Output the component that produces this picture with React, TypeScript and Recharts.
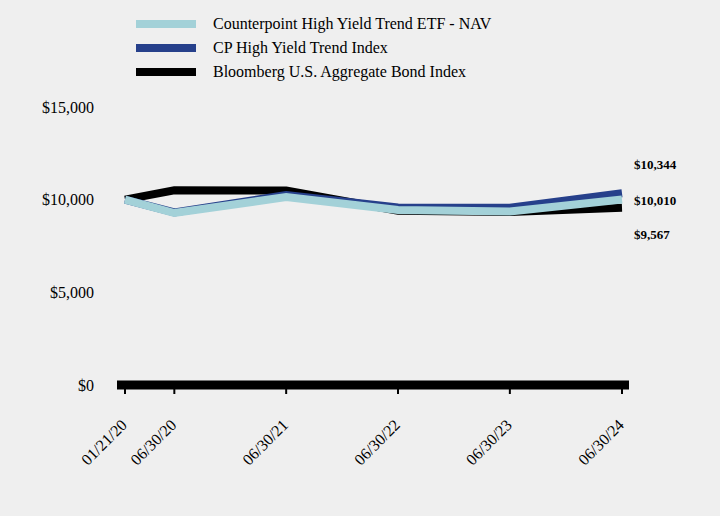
import { Line, LineChart, XAxis, YAxis } from "recharts";

const dates = ["2020-01-21", "2020-06-30", "2021-06-30", "2022-06-30", "2023-06-30", "2024-06-30"];
const tickLabels = ["01/21/20", "06/30/20", "06/30/21", "06/30/22", "06/30/23", "06/30/24"];
const etfValues = [10000, 9280, 10140, 9440, 9360, 10010];
const indexValues = [10000, 9310, 10250, 9580, 9570, 10344];
const bondValues = [10000, 10510, 10490, 9400, 9340, 9567];
const yTicks = [0, 5000, 10000, 15000];

const SERIES = [
  { key: "bond", name: "Bloomberg U.S. Aggregate Bond Index", color: "#000000", labelDy: 25 },
  { key: "index", name: "CP High Yield Trend Index", color: "#26408B", labelDy: -30 },
  { key: "etf", name: "Counterpoint High Yield Trend ETF - NAV", color: "#A3D1D8", labelDy: 0 },
];
const LEGEND_ORDER = ["etf", "index", "bond"];

const FONT = '"Liberation Serif", "Times New Roman", serif';
const timestamps = dates.map((d) => Date.parse(d + "T00:00:00Z"));

const chartData = timestamps.map((t, i) => ({
  t,
  label: tickLabels[i],
  etf: etfValues[i],
  index: indexValues[i],
  bond: bondValues[i],
}));

function formatDollar(v: number): string {
  return "$" + v.toLocaleString("en-US");
}

function XTick(props: any) {
  const { x, y, payload } = props;
  const i = timestamps.indexOf(payload.value);
  const tx = x + 3;
  const ty = y + 30;
  return (
    <text
      x={tx}
      y={ty}
      textAnchor="end"
      transform={`rotate(-45 ${tx} ${ty})`}
      fontFamily={FONT}
      fontSize={16}
      fill="#000"
    >
      {tickLabels[i]}
    </text>
  );
}

function ChartLegend() {
  return (
    <div style={{ position: "absolute", left: 136, top: 12, fontFamily: FONT, fontSize: 16, color: "#000" }}>
      {LEGEND_ORDER.map((k) => {
        const s = SERIES.find((x) => x.key === k)!;
        return (
          <div key={k} style={{ display: "flex", alignItems: "center", height: 24 }}>
            <div style={{ width: 60, height: 8, background: s.color, marginRight: 17 }} />
            <span>{s.name}</span>
          </div>
        );
      })}
    </div>
  );
}

function makeEndLabel(dy: number) {
  const last = chartData.length - 1;
  return (props: any) => {
    const { x, y, index, value } = props;
    if (index !== last) return <g />;
    return (
      <text
        x={x + 12}
        y={y + dy}
        dy={6}
        textAnchor="start"
        fontFamily={FONT}
        fontSize={13}
        fontWeight="bold"
        fill="#000"
      >
        {formatDollar(value)}
      </text>
    );
  };
}

export default function App() {
  return (
    <div style={{ position: "absolute", left: 0, top: 0, width: 720, height: 516, background: "#EFEFEF" }}>
      <LineChart width={720} height={516} data={chartData} margin={{ top: 107, right: 91, bottom: 0, left: 0 }}>
        <XAxis
          dataKey="t"
          type="number"
          domain={[timestamps[0], timestamps[timestamps.length - 1]]}
          ticks={timestamps}
          padding={{ left: 8, right: 7 }}
          height={131}
          axisLine={{ stroke: "#000", strokeWidth: 9 }}
          tickLine={{ stroke: "#000", strokeWidth: 2 }}
          tickSize={9}
          tick={<XTick />}
          interval={0}
        />
        <YAxis
          domain={[0, 15000]}
          ticks={yTicks}
          width={117}
          axisLine={false}
          tickLine={false}
          tickSize={0}
          tickMargin={23}
          tickFormatter={formatDollar}
          tick={{ fontFamily: FONT, fontSize: 16, fill: "#000" }}
        />
        {SERIES.map((s) => (
          <Line
            key={s.key}
            dataKey={s.key}
            name={s.name}
            stroke={s.color}
            strokeWidth={8}
            dot={false}
            activeDot={false}
            isAnimationActive={false}
            label={makeEndLabel(s.labelDy)}
          />
        ))}
      </LineChart>
      <ChartLegend />
    </div>
  );
}
